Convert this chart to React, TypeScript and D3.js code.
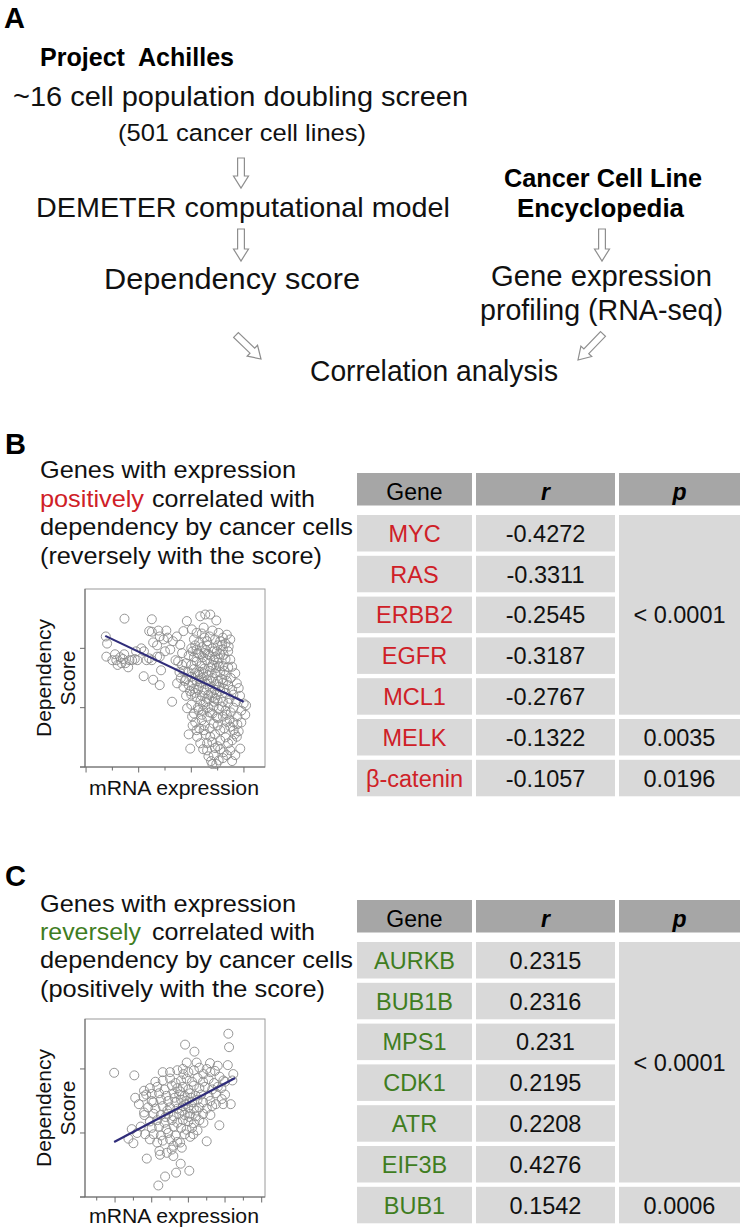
import React from "react";
import * as d3 from "d3";

const FONT = "'Liberation Sans', Arial, Helvetica, sans-serif";
const RED = "#cf2027";
const GREEN = "#3f7d1f";

// ---------- Table data ----------
const tableHeaders = ["Gene", "r", "p"];
const genesB = ["MYC", "RAS", "ERBB2", "EGFR", "MCL1", "MELK", "β-catenin"];
const rValuesB = ["-0.4272", "-0.3311", "-0.2545", "-0.3187", "-0.2767", "-0.1322", "-0.1057"];
const pGroupsB = [
  { label: "< 0.0001", span: 5 },
  { label: "0.0035", span: 1 },
  { label: "0.0196", span: 1 },
];
const genesC = ["AURKB", "BUB1B", "MPS1", "CDK1", "ATR", "EIF3B", "BUB1"];
const rValuesC = ["0.2315", "0.2316", "0.231", "0.2195", "0.2208", "0.4276", "0.1542"];
const pGroupsC = [
  { label: "< 0.0001", span: 6 },
  { label: "0.0006", span: 1 },
];

// ---------- Scatter data (B: negative correlation) ----------
const xTicksB = [0, 1, 2, 3, 4, 5, 6];
const yTicksB = [0, 1, 2];
const fitB = [[0.73, 2.21], [5.99, 1.1]];
const pointsB = [
  [0.75, 2.2], [0.8, 2.08], [0.77, 1.86], [1.1, 1.9], [1.15, 1.8], [1.3, 1.85], [1.4, 1.82], [1.45, 1.9],
  [1.5, 1.75], [1.65, 1.8], [1.6, 1.68], [1.75, 1.8], [1.85, 1.82], [1.95, 1.8], [1.9, 1.95], [2.1, 2.0],
  [2.2, 1.95], [2.3, 1.8], [1.2, 1.72], [1.35, 1.75], [1.0, 1.8], [1.46, 2.5], [2.5, 2.49], [2.4, 2.29],
  [2.5, 2.28], [2.75, 2.3], [2.8, 2.2], [2.55, 2.1], [2.7, 2.05], [2.95, 2.15], [3.05, 2.3], [3.1, 2.18],
  [3.3, 2.12], [3.2, 1.98], [3.0, 1.95], [2.8, 1.86], [2.7, 1.86], [2.5, 1.8], [2.4, 1.83], [2.19, 1.53],
  [2.55, 1.47], [2.85, 1.63], [2.8, 1.38], [3.27, 1.1], [3.46, 1.41], [3.4, 1.8], [3.5, 1.78], [3.65, 1.92],
  [3.58, 2.06], [3.45, 2.2], [3.7, 2.29], [3.83, 2.46], [4.34, 2.54], [4.53, 2.57], [4.72, 2.57], [4.95, 2.47],
  [4.02, 2.32], [4.2, 2.26], [4.47, 2.35], [5.04, 2.26], [5.35, 2.23], [5.48, 2.15], [5.42, 2.03], [5.17, 2.06],
  [4.97, 1.95], [5.23, 1.89], [5.48, 1.81], [5.55, 1.69], [5.67, 1.58], [5.73, 1.41], [5.8, 1.33], [5.99, 1.07],
  [6.08, 1.04],
  [4.1, 2.15], [4.3, 2.1], [4.5, 2.18], [4.7, 2.2], [4.9, 2.15], [5.1, 2.12], [5.3, 2.08],
  [4.0, 2.0], [4.2, 1.98], [4.4, 2.02], [4.6, 2.05], [4.8, 2.0], [5.0, 2.05], [5.2, 1.98], [5.4, 1.95],
  [3.9, 1.88], [4.1, 1.85], [4.3, 1.9], [4.5, 1.92], [4.7, 1.88], [4.9, 1.85], [5.1, 1.9], [5.3, 1.82],
  [3.8, 1.75], [4.0, 1.72], [4.2, 1.78], [4.4, 1.75], [4.6, 1.8], [4.8, 1.72], [5.0, 1.76], [5.2, 1.7], [5.4, 1.68],
  [3.7, 1.62], [3.9, 1.6], [4.1, 1.65], [4.3, 1.6], [4.5, 1.66], [4.7, 1.62], [4.9, 1.58], [5.1, 1.6], [5.3, 1.55], [5.5, 1.5],
  [3.6, 1.5], [3.8, 1.48], [4.0, 1.52], [4.2, 1.45], [4.4, 1.5], [4.6, 1.46], [4.8, 1.5], [5.0, 1.45], [5.2, 1.42], [5.4, 1.38],
  [3.7, 1.35], [3.9, 1.38], [4.1, 1.32], [4.3, 1.36], [4.5, 1.3], [4.7, 1.34], [4.9, 1.3], [5.1, 1.28], [5.3, 1.25], [5.6, 1.22],
  [3.8, 1.2], [4.0, 1.22], [4.2, 1.18], [4.4, 1.2], [4.6, 1.15], [4.8, 1.18], [5.0, 1.12], [5.2, 1.1], [5.4, 1.08],
  [4.0, 1.05], [4.25, 1.0], [4.45, 1.05], [4.65, 1.0], [4.85, 1.02], [5.05, 0.98], [5.3, 0.95], [5.5, 0.92],
  [4.1, 0.9], [4.4, 0.88], [4.6, 0.85], [4.8, 0.9], [5.0, 0.82], [5.2, 0.85], [5.45, 0.8], [5.6, 0.75],
  [4.15, 2.05], [4.55, 1.97], [4.85, 1.95], [5.05, 1.83], [4.35, 1.7], [4.75, 1.68], [4.95, 1.67], [4.25, 1.55],
  [4.65, 1.55], [4.95, 1.4], [4.35, 1.42], [4.55, 1.4], [4.15, 1.25], [4.75, 1.25], [4.55, 1.1], [4.35, 1.12],
  [4.95, 1.22], [5.15, 1.48], [5.35, 1.45], [4.05, 1.42],
  [4.05, 1.95], [4.25, 1.92], [4.45, 1.85], [4.65, 1.9], [4.85, 1.8], [5.05, 1.7], [5.25, 1.62], [4.15, 1.58],
  [4.45, 1.58], [4.75, 1.45], [5.05, 1.35], [4.25, 1.3], [4.65, 1.22], [4.85, 1.1], [4.45, 0.95], [4.7, 0.92],
  [5.15, 1.02], [4.3, 1.48], [4.9, 1.15], [5.25, 1.32], [4.6, 2.12], [4.4, 2.25], [4.8, 2.3], [5.2, 2.18],
  [3.95, 1.28], [3.75, 1.45], [3.65, 1.72], [3.55, 1.6], [5.45, 1.15], [5.55, 1.3], [5.35, 0.88], [4.2, 0.62],
  [4.05, 0.7], [4.9, 0.32], [5.35, 0.2], [4.45, 0.3], [4.8, 0.05], [5.55, 0.1],
  [3.84, 0.99], [4.03, 0.85], [4.22, 0.51], [3.96, 0.31], [4.34, 0.4], [4.6, 0.28], [4.85, 0.2], [5.04, 0.11],
  [5.23, 0.25], [5.48, 0.28], [5.67, 0.2], [5.86, 0.31], [5.73, 0.51], [5.61, 0.62], [5.48, 0.68], [5.35, 0.76],
  [5.1, 0.62], [4.97, 0.85], [4.85, 0.73], [4.72, 0.51], [4.6, 0.4], [4.47, 0.62], [4.4, 0.79], [4.28, 0.96],
  [4.5, 0.7], [4.7, 0.65], [4.9, 0.55], [5.1, 0.45], [5.3, 0.5], [5.0, 0.35], [4.8, 0.42], [5.2, 0.15],
  [4.95, 0.05], [5.1, 0.3], [5.4, 0.4], [4.75, 0.1], [5.55, 0.45], [4.55, 0.55], [4.3, 0.65], [5.65, 0.55],
  [3.9, 0.55], [5.8, 0.6], [5.9, 0.75], [6.05, 0.88], [5.75, 0.85], [4.15, 0.75], [5.0, 0.7], [5.25, 0.65],
  [4.65, 0.18], [5.7, 1.1], [5.85, 1.2], [5.9, 0.95], [5.6, 1.0], [5.75, 0.72],
];

// ---------- Scatter data (C: positive correlation) ----------
const xTicksC = [0, 1, 2, 3, 4, 5, 6, 7, 8, 9];
const yTicksC = [0, 1, 2];
const fitC = [[0.95, 0.86], [7.55, 1.86]];
const pointsC = [
  [0.95, 1.94], [2.05, 1.9], [7.18, 2.55], [7.22, 2.34], [7.15, 2.06], [7.45, 1.92], [7.4, 1.82], [7.31, 1.45],
  [6.82, 1.53], [6.69, 1.12], [4.82, 2.38], [5.33, 2.27], [4.91, 2.1], [5.45, 2.1], [6.18, 2.09], [6.0, 2.0],
  [6.45, 1.97], [4.73, 1.92], [5.82, 1.92], [6.91, 1.82], [2.58, 1.66], [2.55, 1.57], [3.0, 1.61], [3.09, 1.48],
  [2.58, 1.32], [1.91, 1.06], [1.73, 0.91], [2.0, 0.84], [2.64, 0.98], [2.73, 0.6], [3.42, 0.72], [3.45, 0.66],
  [3.82, 0.69], [4.09, 0.74], [4.64, 0.77], [4.55, 0.85], [4.18, 0.64], [4.58, 0.52], [5.05, 0.41], [4.33, 0.38],
  [3.73, 0.32], [3.36, 0.18], [5.27, 0.98], [6.0, 0.87], [5.82, 1.16], [4.18, 0.8],
  [4.0, 1.95], [4.4, 1.98], [5.0, 1.95], [5.6, 2.02], [6.2, 1.95], [6.6, 2.05],
  [3.2, 1.8], [3.6, 1.82], [4.0, 1.85], [4.3, 1.78], [4.6, 1.82], [4.9, 1.85], [5.2, 1.8], [5.5, 1.86],
  [5.8, 1.8], [6.1, 1.84], [6.4, 1.78], [6.7, 1.88],
  [2.9, 1.7], [3.3, 1.72], [3.7, 1.68], [4.1, 1.74], [4.4, 1.7], [4.7, 1.72], [5.0, 1.68], [5.3, 1.74],
  [5.6, 1.7], [5.9, 1.72], [6.3, 1.68], [6.6, 1.72],
  [2.7, 1.6], [3.4, 1.62], [3.8, 1.58], [4.2, 1.62], [4.5, 1.6], [4.8, 1.58], [5.1, 1.62], [5.4, 1.58],
  [5.7, 1.6], [6.1, 1.58], [6.5, 1.62], [7.0, 1.6],
  [3.0, 1.5], [3.5, 1.52], [3.9, 1.5], [4.3, 1.48], [4.6, 1.52], [4.9, 1.5], [5.2, 1.48], [5.5, 1.52],
  [5.8, 1.48], [6.2, 1.5], [6.5, 1.45],
  [2.8, 1.4], [3.2, 1.38], [3.6, 1.42], [4.0, 1.4], [4.4, 1.38], [4.7, 1.42], [5.0, 1.4], [5.3, 1.38],
  [5.6, 1.4], [6.0, 1.38], [6.3, 1.42],
  [2.6, 1.28], [3.1, 1.3], [3.5, 1.28], [3.9, 1.3], [4.2, 1.26], [4.5, 1.3], [4.8, 1.28], [5.1, 1.3],
  [5.4, 1.26], [5.8, 1.3], [6.2, 1.28],
  [2.9, 1.18], [3.3, 1.2], [3.7, 1.16], [4.1, 1.2], [4.4, 1.16], [4.7, 1.2], [5.0, 1.18], [5.3, 1.15], [5.6, 1.2],
  [2.4, 1.1], [3.0, 1.08], [3.4, 1.1], [3.8, 1.06], [4.2, 1.1], [4.6, 1.08], [4.9, 1.05], [5.2, 1.08], [5.5, 1.04],
  [2.2, 1.0], [3.1, 0.98], [3.5, 0.96], [3.9, 1.0], [4.3, 0.96], [4.8, 0.98], [5.1, 0.94],
  [2.9, 0.9], [3.6, 0.88], [4.0, 0.9], [4.4, 0.86], [3.3, 0.85],
  [2.3, 1.45], [2.1, 1.55], [3.6, 1.95], [4.7, 2.0], [5.3, 1.98], [6.8, 1.7], [7.0, 1.8], [6.9, 1.45], [3.75, 1.25],
  [4.55, 1.65], [4.85, 1.45], [5.15, 1.55], [4.25, 1.55], [3.85, 1.35], [5.45, 1.35], [4.65, 1.35], [5.05, 1.25],
];

// ---------- Layout helpers ----------
type Pt = number[];

function HollowArrow({ x1, y1, x2, y2 }: { x1: number; y1: number; x2: number; y2: number }) {
  const len = Math.hypot(x2 - x1, y2 - y1);
  const ang = (Math.atan2(y2 - y1, x2 - x1) * 180) / Math.PI - 90;
  const sw = 3.4, hw = 7.5, hl = Math.min(12, len * 0.45);
  const d = `M${-sw},0 L${sw},0 L${sw},${len - hl} L${hw},${len - hl} L0,${len} L${-hw},${len - hl} L${-sw},${len - hl} Z`;
  return (
    <path d={d} transform={`translate(${x1},${y1}) rotate(${ang})`} fill="#fff" stroke="#8e8e8e" strokeWidth={1.2} strokeLinejoin="miter" />
  );
}

function Txt(props: any) {
  const { x, y, size, bold, italic, len, fill, anchor, children, transform } = props;
  return (
    <text
      x={x}
      y={y}
      fontSize={size}
      fontWeight={bold ? "bold" : "normal"}
      fontStyle={italic ? "italic" : "normal"}
      fill={fill || "#111"}
      textAnchor={anchor || "start"}
      textLength={len}
      lengthAdjust={len ? "spacingAndGlyphs" : undefined}
      transform={transform}
      style={{ whiteSpace: "pre" }}
    >
      {children}
    </text>
  );
}

const COLS = [
  { x0: 357, x1: 472 },
  { x0: 476, x1: 615 },
  { x0: 619, x1: 740 },
];
const HEAD_FILL = "#a6a6a6";
const CELL_FILL = "#d9d9d9";

function Table({ headerY, rowTop, genes, rValues, pGroups, color }: any) {
  const pitch = 40.8, rh = 36.5, hh = 32.5;
  const cx = (c: { x0: number; x1: number }) => (c.x0 + c.x1) / 2;
  let start = 0;
  const groups = pGroups.map((g: any) => {
    const s = start;
    start += g.span;
    return { ...g, s };
  });
  return (
    <g>
      {tableHeaders.map((h, i) => (
        <g key={h}>
          <rect x={COLS[i].x0} y={headerY} width={COLS[i].x1 - COLS[i].x0} height={hh} fill={HEAD_FILL} />
          <Txt x={cx(COLS[i])} y={headerY + 26.5} size={23} anchor="middle" bold={i > 0} italic={i > 0} fill="#000">
            {h}
          </Txt>
        </g>
      ))}
      {genes.map((g: string, i: number) => {
        const y = rowTop + i * pitch;
        return (
          <g key={g}>
            <rect x={COLS[0].x0} y={y} width={COLS[0].x1 - COLS[0].x0} height={rh} fill={CELL_FILL} />
            <rect x={COLS[1].x0} y={y} width={COLS[1].x1 - COLS[1].x0} height={rh} fill={CELL_FILL} />
            <Txt x={cx(COLS[0])} y={y + rh / 2 + 8.5} size={23.5} anchor="middle" fill={color}>
              {g}
            </Txt>
            <Txt x={cx(COLS[1])} y={y + rh / 2 + 8.5} size={23.5} anchor="middle" fill="#111">
              {rValues[i]}
            </Txt>
          </g>
        );
      })}
      {groups.map((g: any) => {
        const y0 = rowTop + g.s * pitch;
        const y1 = rowTop + (g.s + g.span - 1) * pitch + rh;
        return (
          <g key={g.label + g.s}>
            <rect x={COLS[2].x0} y={y0} width={COLS[2].x1 - COLS[2].x0} height={y1 - y0} fill={CELL_FILL} />
            <Txt x={cx(COLS[2])} y={(y0 + y1) / 2 + 8.5} size={23.5} anchor="middle" fill="#111">
              {g.label}
            </Txt>
          </g>
        );
      })}
    </g>
  );
}

function Scatter({ top, bottom, xDomain, yDomain, points, fit, xTicks, majorParity, yTicks, xLabelY }: any) {
  const left = 85, right = 265;
  const x = d3.scaleLinear().domain(xDomain).range([left, right]);
  const y = d3.scaleLinear().domain(yDomain).range([bottom, top]);
  const line = d3.line<Pt>().x((d) => x(d[0])).y((d) => y(d[1]));
  const midY = (top + bottom) / 2;
  return (
    <g>
      <rect x={left} y={top} width={right - left} height={bottom - top} fill="none" stroke="#9a9a9a" strokeWidth={1} />
      <line x1={left} x2={left} y1={top} y2={bottom} stroke="#6a6a6a" strokeWidth={1} />
      <line x1={left - 5} x2={right} y1={bottom} y2={bottom} stroke="#6a6a6a" strokeWidth={1} />
      {yTicks.map((t: number) => (
        <line key={"y" + t} x1={left - 5} x2={left} y1={y(t)} y2={y(t)} stroke="#6a6a6a" strokeWidth={1} />
      ))}
      {xTicks.map((t: number) => (
        <line key={"x" + t} x1={x(t)} x2={x(t)} y1={bottom} y2={bottom + (t % 2 === majorParity ? 5.5 : 3.5)} stroke="#6a6a6a" strokeWidth={1} />
      ))}
      {points.map((p: Pt, i: number) => (
        <circle key={i} cx={x(p[0])} cy={y(p[1])} r={4.5} fill="none" stroke="#8a8a8a" strokeWidth={0.9} />
      ))}
      <path d={line(fit) || ""} fill="none" stroke="#2f2c7a" strokeWidth={2.2} />
      <Txt x={0} y={0} size={21} anchor="middle" len={118} transform={`translate(51,${midY}) rotate(-90)`} fill="#111">
        Dependency
      </Txt>
      <Txt x={0} y={0} size={21} anchor="middle" transform={`translate(75,${midY}) rotate(-90)`} fill="#111">
        Score
      </Txt>
      <Txt x={174} y={xLabelY} size={20} anchor="middle" len={170} fill="#111">
        mRNA expression
      </Txt>
    </g>
  );
}

export default function App() {
  return (
    <svg
      width={744}
      height={1232}
      viewBox="0 0 744 1232"
      style={{ position: "absolute", left: 0, top: 0, background: "#fff" }}
      fontFamily={FONT}
    >
      <rect x={0} y={0} width={744} height={1232} fill="#fff" />

      {/* Panel A */}
      <Txt x={4} y={28} size={29} bold fill="#000">A</Txt>
      <Txt x={40} y={66} size={25} bold len={194} fill="#000">{"Project\u00A0 Achilles"}</Txt>
      <Txt x={13} y={106} size={28.5} len={455}>~16 cell population doubling screen</Txt>
      <Txt x={118} y={141} size={24.5} len={248}>(501 cancer cell lines)</Txt>
      <HollowArrow x1={241} y1={158} x2={241} y2={188} />
      <Txt x={36} y={217} size={28.5} len={414}>DEMETER computational model</Txt>
      <HollowArrow x1={241} y1={229} x2={241} y2={261} />
      <Txt x={104} y={289} size={29} len={256}>Dependency score</Txt>
      <Txt x={504} y={187} size={25.5} bold len={198} fill="#000">Cancer Cell Line</Txt>
      <Txt x={517} y={217} size={25.5} bold len={167} fill="#000">Encyclopedia</Txt>
      <HollowArrow x1={602} y1={229} x2={602} y2={261} />
      <Txt x={491} y={286} size={29} len={221}>Gene expression</Txt>
      <Txt x={480} y={320} size={29} len={243}>profiling (RNA-seq)</Txt>
      <HollowArrow x1={236} y1={335} x2={261} y2={359} />
      <HollowArrow x1={603} y1={334} x2={578} y2={360} />
      <Txt x={310} y={381} size={29} len={248}>Correlation analysis</Txt>

      {/* Panel B */}
      <Txt x={5} y={454} size={29} bold fill="#000">B</Txt>
      <Txt x={40} y={478} size={24} len={256}>Genes with expression</Txt>
      <Txt x={40} y={507} size={24} len={104} fill={RED}>positively</Txt>
      <Txt x={152} y={507} size={24} len={163}>correlated with</Txt>
      <Txt x={40} y={535} size={24} len={313}>dependency by cancer cells</Txt>
      <Txt x={40} y={564} size={24} len={282}>(reversely with the score)</Txt>
      <Scatter
        top={589}
        bottom={767}
        xDomain={[-0.04, 6.8]}
        yDomain={[0, 3]}
        points={pointsB}
        fit={fitB}
        xTicks={xTicksB}
        majorParity={0}
        yTicks={yTicksB}
        xLabelY={795}
      />
      <Table headerY={473} rowTop={515} genes={genesB} rValues={rValuesB} pGroups={pGroupsB} color={RED} />

      {/* Panel C */}
      <Txt x={5} y={886} size={29} bold fill="#000">C</Txt>
      <Txt x={40} y={912} size={24} len={256}>Genes with expression</Txt>
      <Txt x={40} y={940} size={24} len={101} fill={GREEN}>reversely</Txt>
      <Txt x={152} y={940} size={24} len={163}>correlated with</Txt>
      <Txt x={40} y={968} size={24} len={313}>dependency by cancer cells</Txt>
      <Txt x={40} y={997} size={24} len={285}>(positively with the score)</Txt>
      <Scatter
        top={1019}
        bottom={1197}
        xDomain={[-0.64, 9.18]}
        yDomain={[0, 2.78]}
        points={pointsC}
        fit={fitC}
        xTicks={xTicksC}
        majorParity={1}
        yTicks={yTicksC}
        xLabelY={1223}
      />
      <Table headerY={900} rowTop={942} genes={genesC} rValues={rValuesC} pGroups={pGroupsC} color={GREEN} />
    </svg>
  );
}
